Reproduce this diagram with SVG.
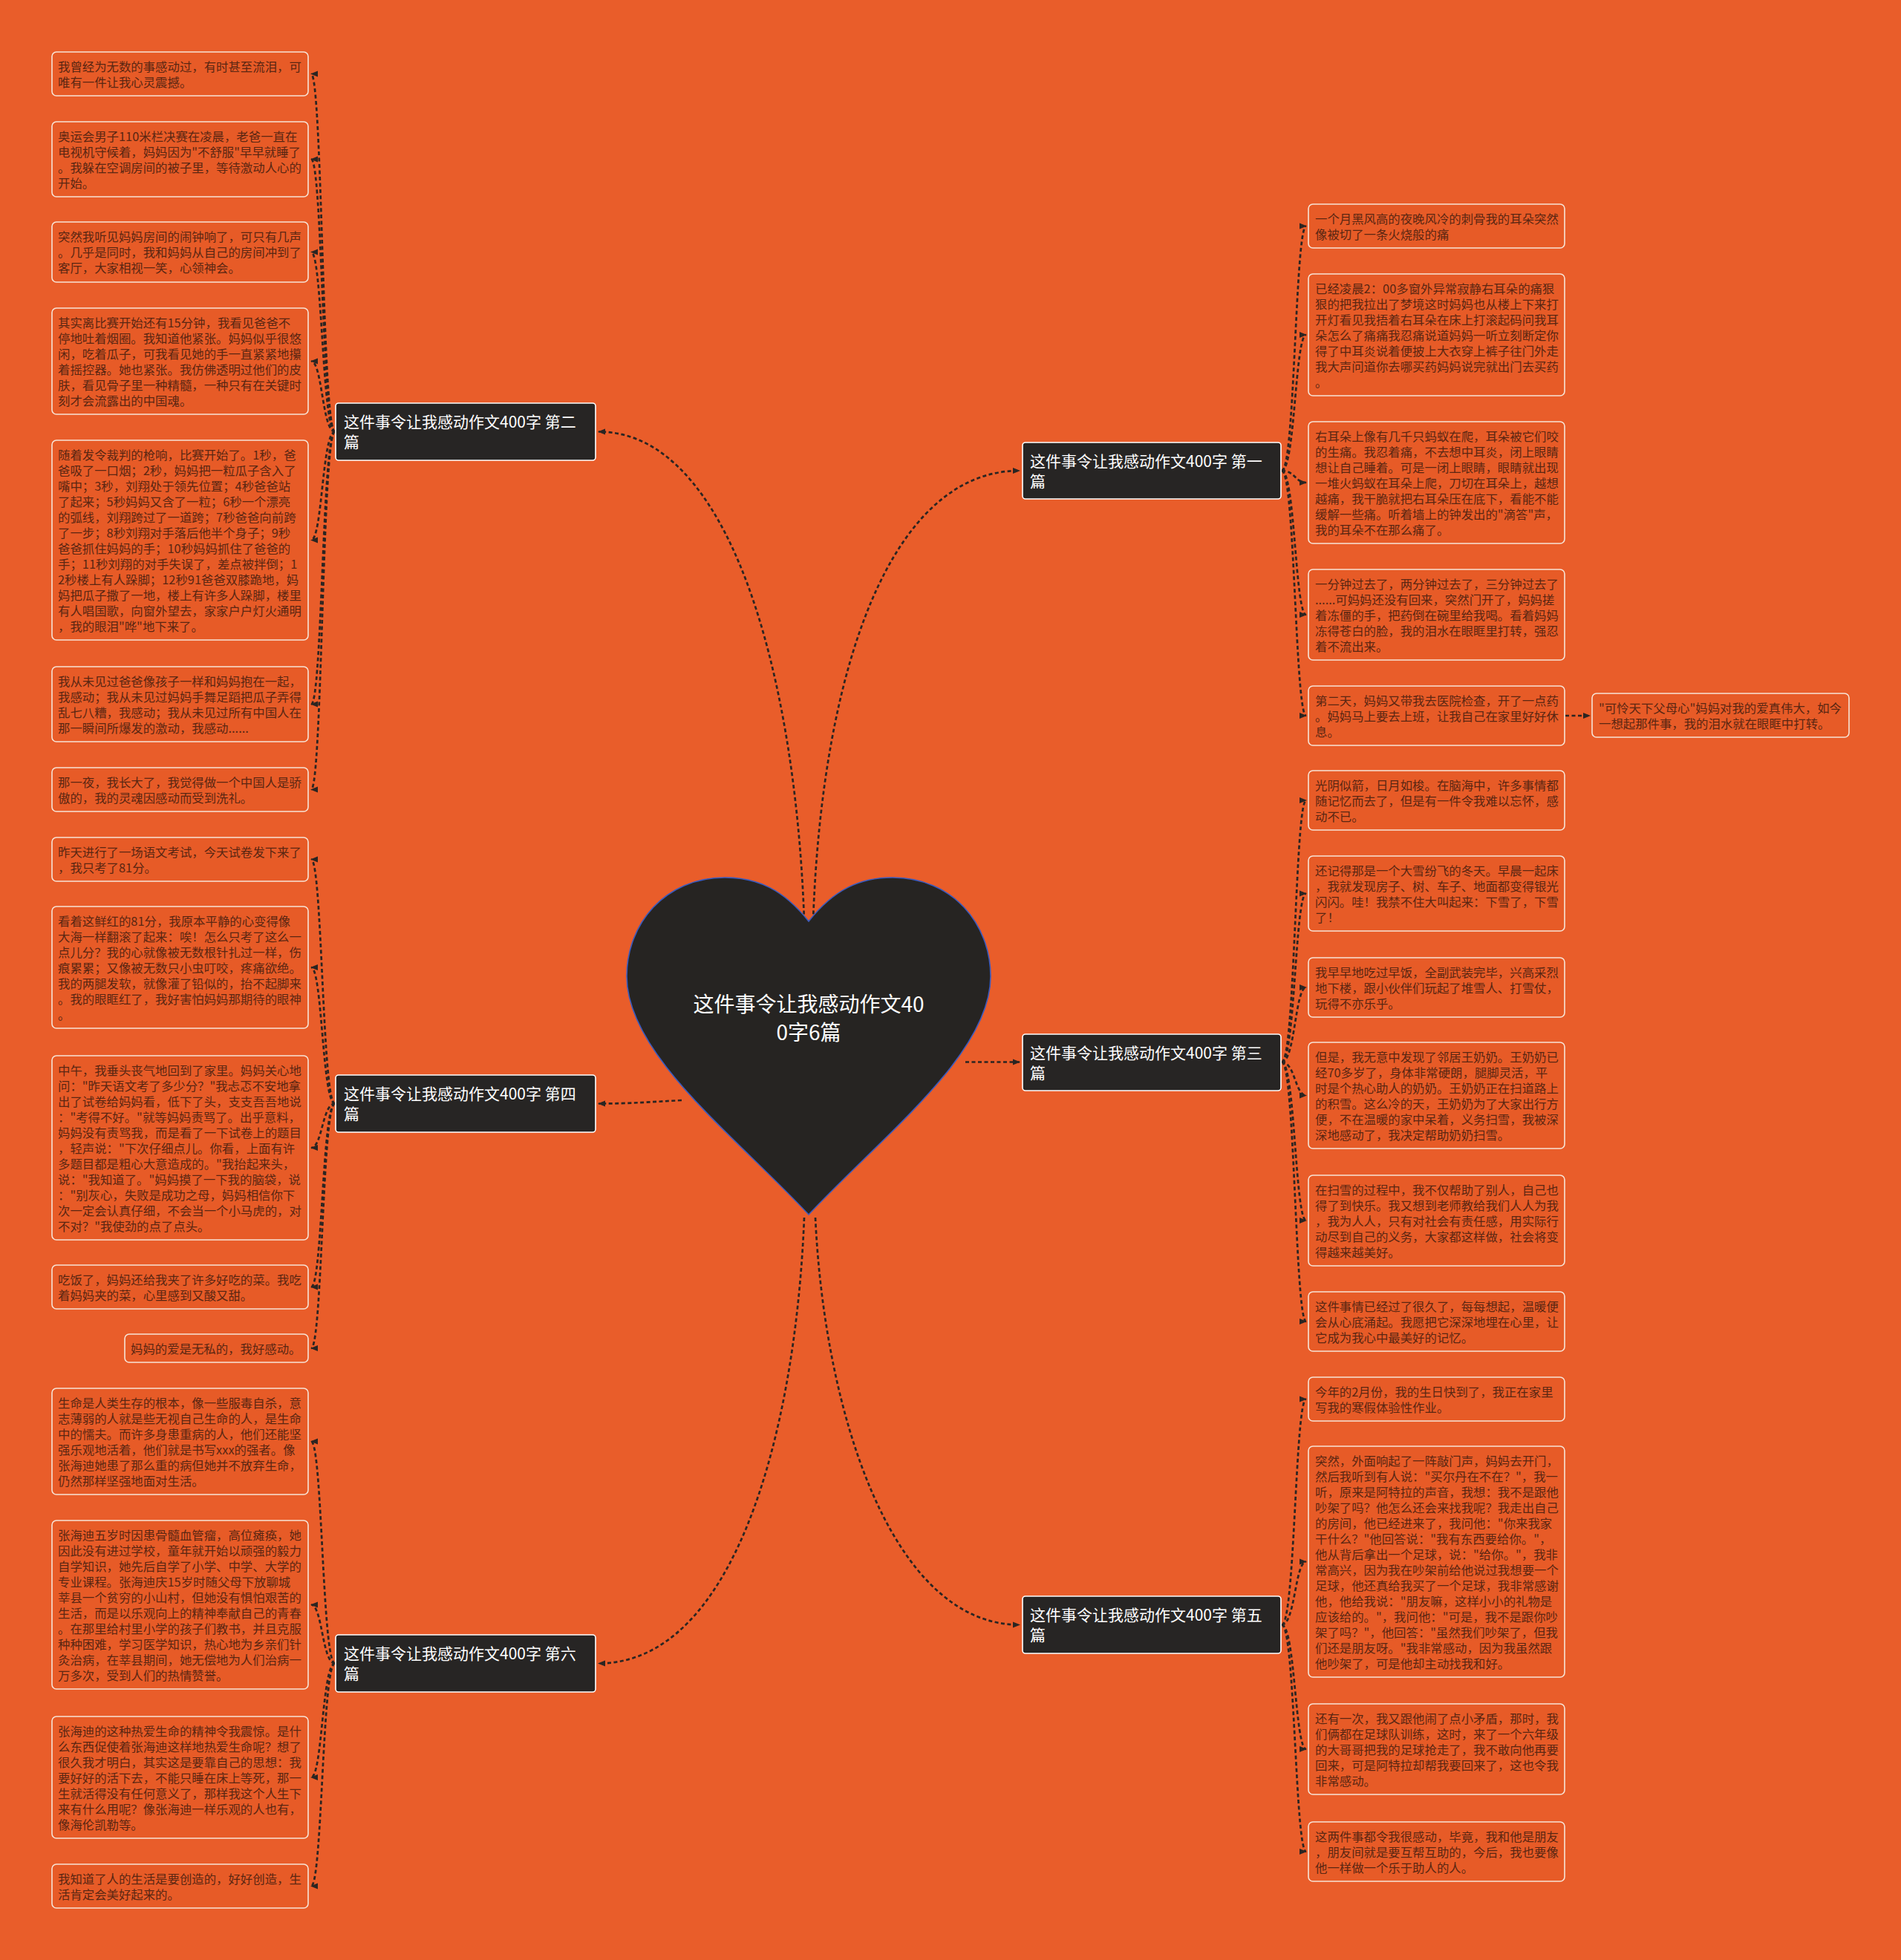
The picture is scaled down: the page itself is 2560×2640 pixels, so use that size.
<svg xmlns="http://www.w3.org/2000/svg" width="2560" height="2640" viewBox="0 0 2560 2640">
<style>
.bg{fill:#E95D2A}
.leaf{fill:#E75B27;stroke:#F7E4D6;stroke-width:1.6}
.lt{font-family:"Noto Sans CJK SC","Liberation Sans",sans-serif;font-size:16.4px;fill:#5A2612}
.node{fill:#272524;stroke:#FFFFFF;stroke-width:1.6}
.nt{font-family:"Noto Sans CJK SC","Liberation Sans",sans-serif;font-size:21px;fill:#FFFFFF}
.ct{font-family:"Noto Sans CJK SC","Liberation Sans",sans-serif;font-size:28px;fill:#FFFFFF;text-anchor:middle}
.c{fill:none;stroke:#2B2522;stroke-width:2.7;stroke-dasharray:5 3.5;marker-end:url(#ah)}
</style>
<defs>
<marker id="ah" viewBox="0 0 10 10" refX="9" refY="5" markerWidth="11" markerHeight="10" markerUnits="userSpaceOnUse" orient="auto"><path d="M0,1 L10,5 L0,9 z" fill="#2B2522"/></marker>
</defs>
<rect class="bg" x="0" y="0" width="2560" height="2640"/>

<g id="connectors">
<path class="c" d="M1083,1240 C1071,900 980,581.5 806,581.5"/>
<path class="c" d="M1095,1240 C1107,900 1200,634 1373,634"/>
<path class="c" d="M1300,1430.5 L1373,1430.5"/>
<path class="c" d="M918,1482 C880,1484 850,1486.5 806,1486.5"/>
<path class="c" d="M1098,1640 C1110,1900 1200,2188.5 1373,2188.5"/>
<path class="c" d="M1083,1640 C1071,1940 985,2240.5 806,2240.5"/>

<path class="c" d="M451,581.5 C434,581.5 434,99.5 419,99.5"/>
<path class="c" d="M451,581.5 C434,581.5 434,214.5 419,214.5"/>
<path class="c" d="M451,581.5 C434,581.5 434,339.5 419,339.5"/>
<path class="c" d="M451,581.5 C434,581.5 434,486.5 419,486.5"/>
<path class="c" d="M451,581.5 C434,581.5 434,727.5 419,727.5"/>
<path class="c" d="M451,581.5 C434,581.5 434,948.5 419,948.5"/>
<path class="c" d="M451,581.5 C434,581.5 434,1063.5 419,1063.5"/>

<path class="c" d="M451,1486.5 C434,1486.5 434,1157.5 419,1157.5"/>
<path class="c" d="M451,1486.5 C434,1486.5 434,1303 419,1303"/>
<path class="c" d="M451,1486.5 C434,1486.5 434,1546 419,1546"/>
<path class="c" d="M451,1486.5 C434,1486.5 434,1733.5 419,1733.5"/>
<path class="c" d="M451,1486.5 C434,1486.5 434,1816 419,1816"/>

<path class="c" d="M451,2240.5 C434,2240.5 434,1941.5 419,1941.5"/>
<path class="c" d="M451,2240.5 C434,2240.5 434,2161.5 419,2161.5"/>
<path class="c" d="M451,2240.5 C434,2240.5 434,2394 419,2394"/>
<path class="c" d="M451,2240.5 C434,2240.5 434,2540.5 419,2540.5"/>

<path class="c" d="M1726,634 C1744,634 1744,304.5 1759,304.5"/>
<path class="c" d="M1726,634 C1744,634 1744,451 1759,451"/>
<path class="c" d="M1726,634 C1744,634 1744,650 1759,650"/>
<path class="c" d="M1726,634 C1744,634 1744,828 1759,828"/>
<path class="c" d="M1726,634 C1744,634 1744,964 1759,964"/>
<path class="c" d="M2108,964 L2141,964"/>

<path class="c" d="M1726,1430.5 C1744,1430.5 1744,1078 1759,1078"/>
<path class="c" d="M1726,1430.5 C1744,1430.5 1744,1203.5 1759,1203.5"/>
<path class="c" d="M1726,1430.5 C1744,1430.5 1744,1330 1759,1330"/>
<path class="c" d="M1726,1430.5 C1744,1430.5 1744,1475.5 1759,1475.5"/>
<path class="c" d="M1726,1430.5 C1744,1430.5 1744,1644 1759,1644"/>
<path class="c" d="M1726,1430.5 C1744,1430.5 1744,1780 1759,1780"/>

<path class="c" d="M1726,2188.5 C1744,2188.5 1744,1884.5 1759,1884.5"/>
<path class="c" d="M1726,2188.5 C1744,2188.5 1744,2103.5 1759,2103.5"/>
<path class="c" d="M1726,2188.5 C1744,2188.5 1744,2356 1759,2356"/>
<path class="c" d="M1726,2188.5 C1744,2188.5 1744,2494 1759,2494"/>
</g>

<g id="center">
<path d="M1089,1241 C1055,1198 1020,1182 976,1182 C895,1182 844,1245 844,1315 C844,1420 990,1530 1089,1636 C1188,1530 1334,1420 1334,1315 C1334,1245 1283,1182 1202,1182 C1158,1182 1123,1198 1089,1241 Z" fill="#262422" stroke="#3A5BC0" stroke-width="1.6"/>
<text class="ct"><tspan x="1089" y="1363">这件事令让我感动作文40</tspan><tspan x="1089" y="1401">0字6篇</tspan></text>
</g>

<g id="b2"><rect class="node" x="452" y="543" width="350" height="77" rx="4"/><text class="nt"><tspan x="463" y="576">这件事令让我感动作文400字 第二</tspan><tspan x="463" y="603">篇</tspan></text></g>
<g id="b4"><rect class="node" x="452" y="1448" width="350" height="77" rx="4"/><text class="nt"><tspan x="463" y="1481">这件事令让我感动作文400字 第四</tspan><tspan x="463" y="1508">篇</tspan></text></g>
<g id="b6"><rect class="node" x="452" y="2202" width="350" height="77" rx="4"/><text class="nt"><tspan x="463" y="2235">这件事令让我感动作文400字 第六</tspan><tspan x="463" y="2262">篇</tspan></text></g>
<g id="b1"><rect class="node" x="1377" y="596" width="348" height="76" rx="4"/><text class="nt"><tspan x="1387" y="629">这件事令让我感动作文400字 第一</tspan><tspan x="1387" y="656">篇</tspan></text></g>
<g id="b3"><rect class="node" x="1377" y="1393" width="348" height="76" rx="4"/><text class="nt"><tspan x="1387" y="1426">这件事令让我感动作文400字 第三</tspan><tspan x="1387" y="1453">篇</tspan></text></g>
<g id="b5"><rect class="node" x="1377" y="2150" width="348" height="77" rx="4"/><text class="nt"><tspan x="1387" y="2183">这件事令让我感动作文400字 第五</tspan><tspan x="1387" y="2210">篇</tspan></text></g>

<g id="L1"><rect class="leaf" x="70" y="70" width="345" height="59" rx="6"/><text class="lt"><tspan x="78" y="96">我曾经为无数的事感动过，有时甚至流泪，可</tspan><tspan x="78" y="117">唯有一件让我心灵震撼。</tspan></text></g>
<g id="L2"><rect class="leaf" x="70" y="164" width="345" height="101" rx="6"/><text class="lt"><tspan x="78" y="190">奥运会男子110米栏决赛在凌晨，老爸一直在</tspan><tspan x="78" y="211">电视机守候着，妈妈因为"不舒服"早早就睡了</tspan><tspan x="78" y="232">。我躲在空调房间的被子里，等待激动人心的</tspan><tspan x="78" y="253">开始。</tspan></text></g>
<g id="L3"><rect class="leaf" x="70" y="299" width="345" height="81" rx="6"/><text class="lt"><tspan x="78" y="325">突然我听见妈妈房间的闹钟响了，可只有几声</tspan><tspan x="78" y="346">。几乎是同时，我和妈妈从自己的房间冲到了</tspan><tspan x="78" y="367">客厅，大家相视一笑，心领神会。</tspan></text></g>
<g id="L4"><rect class="leaf" x="70" y="415" width="345" height="143" rx="6"/><text class="lt"><tspan x="78" y="441">其实离比赛开始还有15分钟，我看见爸爸不</tspan><tspan x="78" y="462">停地吐着烟圈。我知道他紧张。妈妈似乎很悠</tspan><tspan x="78" y="483">闲，吃着瓜子，可我看见她的手一直紧紧地攥</tspan><tspan x="78" y="504">着摇控器。她也紧张。我仿佛透明过他们的皮</tspan><tspan x="78" y="525">肤，看见骨子里一种精髓，一种只有在关键时</tspan><tspan x="78" y="546">刻才会流露出的中国魂。</tspan></text></g>
<g id="L5"><rect class="leaf" x="70" y="593" width="345" height="269" rx="6"/><text class="lt"><tspan x="78" y="619">随着发令裁判的枪响，比赛开始了。1秒，爸</tspan><tspan x="78" y="640">爸吸了一口烟；2秒，妈妈把一粒瓜子含入了</tspan><tspan x="78" y="661">嘴中；3秒，刘翔处于领先位置；4秒爸爸站</tspan><tspan x="78" y="682">了起来；5秒妈妈又含了一粒；6秒一个漂亮</tspan><tspan x="78" y="703">的弧线，刘翔跨过了一道跨；7秒爸爸向前跨</tspan><tspan x="78" y="724">了一步；8秒刘翔对手落后他半个身子；9秒</tspan><tspan x="78" y="745">爸爸抓住妈妈的手；10秒妈妈抓住了爸爸的</tspan><tspan x="78" y="766">手；11秒刘翔的对手失误了，差点被拌倒；1</tspan><tspan x="78" y="787">2秒楼上有人跺脚；12秒91爸爸双膝跪地，妈</tspan><tspan x="78" y="808">妈把瓜子撒了一地，楼上有许多人跺脚，楼里</tspan><tspan x="78" y="829">有人唱国歌，向窗外望去，家家户户灯火通明</tspan><tspan x="78" y="850">，我的眼泪"哗"地下来了。</tspan></text></g>
<g id="L6"><rect class="leaf" x="70" y="898" width="345" height="101" rx="6"/><text class="lt"><tspan x="78" y="924">我从未见过爸爸像孩子一样和妈妈抱在一起，</tspan><tspan x="78" y="945">我感动；我从未见过妈妈手舞足蹈把瓜子弄得</tspan><tspan x="78" y="966">乱七八糟，我感动；我从未见过所有中国人在</tspan><tspan x="78" y="987">那一瞬间所爆发的激动，我感动......</tspan></text></g>
<g id="L7"><rect class="leaf" x="70" y="1034" width="345" height="59" rx="6"/><text class="lt"><tspan x="78" y="1060">那一夜，我长大了，我觉得做一个中国人是骄</tspan><tspan x="78" y="1081">傲的，我的灵魂因感动而受到洗礼。</tspan></text></g>

<g id="L8"><rect class="leaf" x="70" y="1128" width="345" height="59" rx="6"/><text class="lt"><tspan x="78" y="1154">昨天进行了一场语文考试，今天试卷发下来了</tspan><tspan x="78" y="1175">，我只考了81分。</tspan></text></g>
<g id="L9"><rect class="leaf" x="70" y="1221" width="345" height="164" rx="6"/><text class="lt"><tspan x="78" y="1247">看着这鲜红的81分，我原本平静的心变得像</tspan><tspan x="78" y="1268">大海一样翻滚了起来：唉！怎么只考了这么一</tspan><tspan x="78" y="1289">点儿分？我的心就像被无数根针扎过一样，伤</tspan><tspan x="78" y="1310">痕累累；又像被无数只小虫叮咬，疼痛欲绝。</tspan><tspan x="78" y="1331">我的两腿发软，就像灌了铅似的，抬不起脚来</tspan><tspan x="78" y="1352">。我的眼眶红了，我好害怕妈妈那期待的眼神</tspan><tspan x="78" y="1373">。</tspan></text></g>
<g id="L10"><rect class="leaf" x="70" y="1422" width="345" height="248" rx="6"/><text class="lt"><tspan x="78" y="1448">中午，我垂头丧气地回到了家里。妈妈关心地</tspan><tspan x="78" y="1469">问："昨天语文考了多少分？"我忐忑不安地拿</tspan><tspan x="78" y="1490">出了试卷给妈妈看，低下了头，支支吾吾地说</tspan><tspan x="78" y="1511">："考得不好。"就等妈妈责骂了。出乎意料，</tspan><tspan x="78" y="1532">妈妈没有责骂我，而是看了一下试卷上的题目</tspan><tspan x="78" y="1553">，轻声说："下次仔细点儿。你看，上面有许</tspan><tspan x="78" y="1574">多题目都是粗心大意造成的。"我抬起来头，</tspan><tspan x="78" y="1595">说："我知道了。"妈妈摸了一下我的脑袋，说</tspan><tspan x="78" y="1616">："别灰心，失败是成功之母，妈妈相信你下</tspan><tspan x="78" y="1637">次一定会认真仔细，不会当一个小马虎的，对</tspan><tspan x="78" y="1658">不对？"我使劲的点了点头。</tspan></text></g>
<g id="L11"><rect class="leaf" x="70" y="1704" width="345" height="59" rx="6"/><text class="lt"><tspan x="78" y="1730">吃饭了，妈妈还给我夹了许多好吃的菜。我吃</tspan><tspan x="78" y="1751">着妈妈夹的菜，心里感到又酸又甜。</tspan></text></g>
<g id="L12"><rect class="leaf" x="168" y="1797" width="247" height="38" rx="6"/><text class="lt"><tspan x="176" y="1823">妈妈的爱是无私的，我好感动。</tspan></text></g>

<g id="L13"><rect class="leaf" x="70" y="1870" width="345" height="143" rx="6"/><text class="lt"><tspan x="78" y="1896">生命是人类生存的根本，像一些服毒自杀，意</tspan><tspan x="78" y="1917">志薄弱的人就是些无视自己生命的人，是生命</tspan><tspan x="78" y="1938">中的懦夫。而许多身患重病的人，他们还能坚</tspan><tspan x="78" y="1959">强乐观地活着，他们就是书写xxx的强者。像</tspan><tspan x="78" y="1980">张海迪她患了那么重的病但她并不放弃生命，</tspan><tspan x="78" y="2001">仍然那样坚强地面对生活。</tspan></text></g>
<g id="L14"><rect class="leaf" x="70" y="2048" width="345" height="227" rx="6"/><text class="lt"><tspan x="78" y="2074">张海迪五岁时因患骨髓血管瘤，高位瘫痪，她</tspan><tspan x="78" y="2095">因此没有进过学校，童年就开始以顽强的毅力</tspan><tspan x="78" y="2116">自学知识，她先后自学了小学、中学、大学的</tspan><tspan x="78" y="2137">专业课程。张海迪庆15岁时随父母下放聊城</tspan><tspan x="78" y="2158">莘县一个贫穷的小山村，但她没有惧怕艰苦的</tspan><tspan x="78" y="2179">生活，而是以乐观向上的精神奉献自己的青春</tspan><tspan x="78" y="2200">。在那里给村里小学的孩子们教书，并且克服</tspan><tspan x="78" y="2221">种种困难，学习医学知识，热心地为乡亲们针</tspan><tspan x="78" y="2242">灸治病，在莘县期间，她无偿地为人们治病一</tspan><tspan x="78" y="2263">万多次，受到人们的热情赞誉。</tspan></text></g>
<g id="L15"><rect class="leaf" x="70" y="2312" width="345" height="164" rx="6"/><text class="lt"><tspan x="78" y="2338">张海迪的这种热爱生命的精神令我震惊。是什</tspan><tspan x="78" y="2359">么东西促使着张海迪这样地热爱生命呢？想了</tspan><tspan x="78" y="2380">很久我才明白，其实这是要靠自己的思想：我</tspan><tspan x="78" y="2401">要好好的活下去，不能只睡在床上等死，那一</tspan><tspan x="78" y="2422">生就活得没有任何意义了，那样我这个人生下</tspan><tspan x="78" y="2443">来有什么用呢？像张海迪一样乐观的人也有，</tspan><tspan x="78" y="2464">像海伦凯勒等。</tspan></text></g>
<g id="L16"><rect class="leaf" x="70" y="2511" width="345" height="59" rx="6"/><text class="lt"><tspan x="78" y="2537">我知道了人的生活是要创造的，好好创造，生</tspan><tspan x="78" y="2558">活肯定会美好起来的。</tspan></text></g>

<g id="R1"><rect class="leaf" x="1762" y="275" width="345" height="59" rx="6"/><text class="lt"><tspan x="1771" y="301">一个月黑风高的夜晚风冷的刺骨我的耳朵突然</tspan><tspan x="1771" y="322">像被切了一条火烧般的痛</tspan></text></g>
<g id="R2"><rect class="leaf" x="1762" y="369" width="345" height="164" rx="6"/><text class="lt"><tspan x="1771" y="395">已经凌晨2：00多窗外异常寂静右耳朵的痛狠</tspan><tspan x="1771" y="416">狠的把我拉出了梦境这时妈妈也从楼上下来打</tspan><tspan x="1771" y="437">开灯看见我捂着右耳朵在床上打滚起码问我耳</tspan><tspan x="1771" y="458">朵怎么了痛痛我忍痛说道妈妈一听立刻断定你</tspan><tspan x="1771" y="479">得了中耳炎说着便披上大衣穿上裤子往门外走</tspan><tspan x="1771" y="500">我大声问道你去哪买药妈妈说完就出门去买药</tspan><tspan x="1771" y="521">。</tspan></text></g>
<g id="R3"><rect class="leaf" x="1762" y="568" width="345" height="164" rx="6"/><text class="lt"><tspan x="1771" y="594">右耳朵上像有几千只蚂蚁在爬，耳朵被它们咬</tspan><tspan x="1771" y="615">的生痛。我忍着痛，不去想中耳炎，闭上眼睛</tspan><tspan x="1771" y="636">想让自己睡着。可是一闭上眼睛，眼睛就出现</tspan><tspan x="1771" y="657">一堆火蚂蚁在耳朵上爬，刀切在耳朵上，越想</tspan><tspan x="1771" y="678">越痛，我干脆就把右耳朵压在底下，看能不能</tspan><tspan x="1771" y="699">缓解一些痛。听着墙上的钟发出的"滴答"声，</tspan><tspan x="1771" y="720">我的耳朵不在那么痛了。</tspan></text></g>
<g id="R4"><rect class="leaf" x="1762" y="767" width="345" height="122" rx="6"/><text class="lt"><tspan x="1771" y="793">一分钟过去了，两分钟过去了，三分钟过去了</tspan><tspan x="1771" y="814">......可妈妈还没有回来，突然门开了，妈妈搓</tspan><tspan x="1771" y="835">着冻僵的手，把药倒在碗里给我喝。看着妈妈</tspan><tspan x="1771" y="856">冻得苍白的脸，我的泪水在眼眶里打转，强忍</tspan><tspan x="1771" y="877">着不流出来。</tspan></text></g>
<g id="R5"><rect class="leaf" x="1762" y="924" width="345" height="80" rx="6"/><text class="lt"><tspan x="1771" y="950">第二天，妈妈又带我去医院检查，开了一点药</tspan><tspan x="1771" y="971">。妈妈马上要去上班，让我自己在家里好好休</tspan><tspan x="1771" y="992">息。</tspan></text></g>
<g id="R5b"><rect class="leaf" x="2144" y="934" width="346" height="59" rx="6"/><text class="lt"><tspan x="2153" y="960">"可怜天下父母心"妈妈对我的爱真伟大，如今</tspan><tspan x="2153" y="981">一想起那件事，我的泪水就在眼眶中打转。</tspan></text></g>

<g id="R6"><rect class="leaf" x="1762" y="1038" width="345" height="80" rx="6"/><text class="lt"><tspan x="1771" y="1064">光阴似箭，日月如梭。在脑海中，许多事情都</tspan><tspan x="1771" y="1085">随记忆而去了，但是有一件令我难以忘怀，感</tspan><tspan x="1771" y="1106">动不已。</tspan></text></g>
<g id="R7"><rect class="leaf" x="1762" y="1153" width="345" height="101" rx="6"/><text class="lt"><tspan x="1771" y="1179">还记得那是一个大雪纷飞的冬天。早晨一起床</tspan><tspan x="1771" y="1200">，我就发现房子、树、车子、地面都变得银光</tspan><tspan x="1771" y="1221">闪闪。哇！我禁不住大叫起来：下雪了，下雪</tspan><tspan x="1771" y="1242">了！</tspan></text></g>
<g id="R8"><rect class="leaf" x="1762" y="1290" width="345" height="80" rx="6"/><text class="lt"><tspan x="1771" y="1316">我早早地吃过早饭，全副武装完毕，兴高采烈</tspan><tspan x="1771" y="1337">地下楼，跟小伙伴们玩起了堆雪人、打雪仗，</tspan><tspan x="1771" y="1358">玩得不亦乐乎。</tspan></text></g>
<g id="R9"><rect class="leaf" x="1762" y="1404" width="345" height="143" rx="6"/><text class="lt"><tspan x="1771" y="1430">但是，我无意中发现了邻居王奶奶。王奶奶已</tspan><tspan x="1771" y="1451">经70多岁了，身体非常硬朗，腿脚灵活，平</tspan><tspan x="1771" y="1472">时是个热心助人的奶奶。王奶奶正在扫道路上</tspan><tspan x="1771" y="1493">的积雪。这么冷的天，王奶奶为了大家出行方</tspan><tspan x="1771" y="1514">便，不在温暖的家中呆着，义务扫雪，我被深</tspan><tspan x="1771" y="1535">深地感动了，我决定帮助奶奶扫雪。</tspan></text></g>
<g id="R10"><rect class="leaf" x="1762" y="1583" width="345" height="122" rx="6"/><text class="lt"><tspan x="1771" y="1609">在扫雪的过程中，我不仅帮助了别人，自己也</tspan><tspan x="1771" y="1630">得了到快乐。我又想到老师教给我们人人为我</tspan><tspan x="1771" y="1651">，我为人人，只有对社会有责任感，用实际行</tspan><tspan x="1771" y="1672">动尽到自己的义务，大家都这样做，社会将变</tspan><tspan x="1771" y="1693">得越来越美好。</tspan></text></g>
<g id="R11"><rect class="leaf" x="1762" y="1740" width="345" height="80" rx="6"/><text class="lt"><tspan x="1771" y="1766">这件事情已经过了很久了，每每想起，温暖便</tspan><tspan x="1771" y="1787">会从心底涌起。我愿把它深深地埋在心里，让</tspan><tspan x="1771" y="1808">它成为我心中最美好的记忆。</tspan></text></g>

<g id="R12"><rect class="leaf" x="1762" y="1855" width="345" height="59" rx="6"/><text class="lt"><tspan x="1771" y="1881">今年的2月份，我的生日快到了，我正在家里</tspan><tspan x="1771" y="1902">写我的寒假体验性作业。</tspan></text></g>
<g id="R13"><rect class="leaf" x="1762" y="1948" width="345" height="311" rx="6"/><text class="lt"><tspan x="1771" y="1974">突然，外面响起了一阵敲门声，妈妈去开门，</tspan><tspan x="1771" y="1995">然后我听到有人说："买尔丹在不在？"，我一</tspan><tspan x="1771" y="2016">听，原来是阿特拉的声音，我想：我不是跟他</tspan><tspan x="1771" y="2037">吵架了吗？他怎么还会来找我呢？我走出自己</tspan><tspan x="1771" y="2058">的房间，他已经进来了，我问他："你来我家</tspan><tspan x="1771" y="2079">干什么？"他回答说："我有东西要给你。"，</tspan><tspan x="1771" y="2100">他从背后拿出一个足球，说："给你。"，我非</tspan><tspan x="1771" y="2121">常高兴，因为我在吵架前给他说过我想要一个</tspan><tspan x="1771" y="2142">足球，他还真给我买了一个足球，我非常感谢</tspan><tspan x="1771" y="2163">他，他给我说："朋友嘛，这样小小的礼物是</tspan><tspan x="1771" y="2184">应该给的。"，我问他："可是，我不是跟你吵</tspan><tspan x="1771" y="2205">架了吗？"，他回答："虽然我们吵架了，但我</tspan><tspan x="1771" y="2226">们还是朋友呀。"我非常感动，因为我虽然跟</tspan><tspan x="1771" y="2247">他吵架了，可是他却主动找我和好。</tspan></text></g>
<g id="R14"><rect class="leaf" x="1762" y="2295" width="345" height="122" rx="6"/><text class="lt"><tspan x="1771" y="2321">还有一次，我又跟他闹了点小矛盾，那时，我</tspan><tspan x="1771" y="2342">们俩都在足球队训练，这时，来了一个六年级</tspan><tspan x="1771" y="2363">的大哥哥把我的足球抢走了，我不敢向他再要</tspan><tspan x="1771" y="2384">回来，可是阿特拉却帮我要回来了，这也令我</tspan><tspan x="1771" y="2405">非常感动。</tspan></text></g>
<g id="R15"><rect class="leaf" x="1762" y="2454" width="345" height="80" rx="6"/><text class="lt"><tspan x="1771" y="2480">这两件事都令我很感动，毕竟，我和他是朋友</tspan><tspan x="1771" y="2501">，朋友间就是要互帮互助的，今后，我也要像</tspan><tspan x="1771" y="2522">他一样做一个乐于助人的人。</tspan></text></g>
</svg>
